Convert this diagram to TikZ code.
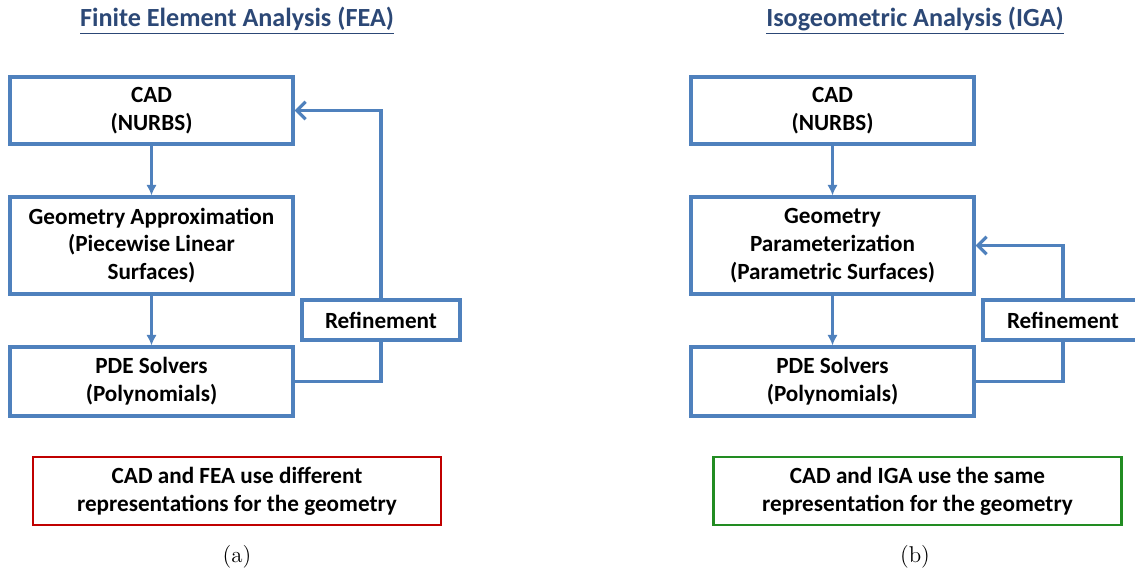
\documentclass[tikz,border=0pt]{standalone}
\usepackage{fontspec}
\newfontfamily\calibri{Carlito}
\usepackage{tikz}
\usetikzlibrary{arrows.meta}

\definecolor{boxblue}{RGB}{79,129,189}
\definecolor{titleblue}{RGB}{44,72,118}
\definecolor{notered}{RGB}{192,0,0}
\definecolor{notegreen}{RGB}{34,140,34}

\begin{document}
\begin{tikzpicture}[x=0.02cm, y=-0.02cm]
	\tikzset{block/.style = {shape=rectangle, draw=boxblue, line width=1.8pt, align=center,
		minimum width=5.66cm, font=\calibri\bfseries\fontsize{13.2}{15.8}\selectfont}}
	\tikzset{note/.style = {block, line width=1.5pt, minimum width=8.16cm, minimum height=1.36cm}}
	\tikzset{heading/.style = {text=titleblue, font=\calibri\bfseries\fontsize{14.9}{17}\selectfont}}
	\tikzset{edge/.style = {draw=boxblue, line width=1.8pt, -{Latex[length=6pt, width=6pt]}}}
	\tikzset{back/.style = {draw=boxblue, line width=1.8pt, -{Straight Barb[length=5pt, width=10pt]}}}
	\tikzset{link/.style = {draw=boxblue, line width=1.8pt}}
	\useasboundingbox (0, 0) rectangle (1135, 577);
	% (a) finite element analysis
	\node[heading] (fea) at (237, 21) {\underline{Finite Element Analysis (FEA)}};
	\node[block, minimum height=1.34cm] (cadA) at (151.5, 110.5) {CAD\\(NURBS)};
	\node[block, minimum height=1.94cm] (geoA) at (151.5, 245.5) {Geometry Approximation\\(Piecewise Linear\\Surfaces)};
	\node[block, minimum height=1.38cm] (pdeA) at (151.5, 381.5) {PDE Solvers\\(Polynomials)};
	\node[block, minimum width=3.16cm, minimum height=0.8cm] (refA) at (381, 320) {Refinement};
	\node[note, draw=notered] (noteA) at (237, 491) {CAD and FEA use different\\representations for the geometry};
	\node (capA) at (237, 557) {\fontsize{13}{15}\selectfont (a)};
	\draw[edge] (cadA) to (geoA);
	\draw[edge] (geoA) to (pdeA);
	\draw[link] (pdeA.east) -| (refA.south);
	\draw[back] (refA.north) |- (cadA.east);
	% (b) isogeometric analysis
	\node[heading] (iga) at (915, 21) {\underline{Isogeometric Analysis (IGA)}};
	\node[block, minimum height=1.34cm] (cadB) at (832.5, 110.5) {CAD\\(NURBS)};
	\node[block, minimum height=1.94cm] (geoB) at (832.5, 245.5) {Geometry\\Parameterization\\(Parametric Surfaces)};
	\node[block, minimum height=1.38cm] (pdeB) at (832.5, 381.5) {PDE Solvers\\(Polynomials)};
	\node[block, minimum width=3.2cm, minimum height=0.8cm] (refB) at (1063, 320) {Refinement};
	\node[note, draw=notegreen] (noteB) at (917.5, 491) {CAD and IGA use the same\\representation for the geometry};
	\node (capB) at (915, 557) {\fontsize{13}{15}\selectfont (b)};
	\draw[edge] (cadB) to (geoB);
	\draw[edge] (geoB) to (pdeB);
	\draw[link] (pdeB.east) -| (refB.south);
	\draw[back] (refB.north) |- (geoB.east);
\end{tikzpicture}
\end{document}
